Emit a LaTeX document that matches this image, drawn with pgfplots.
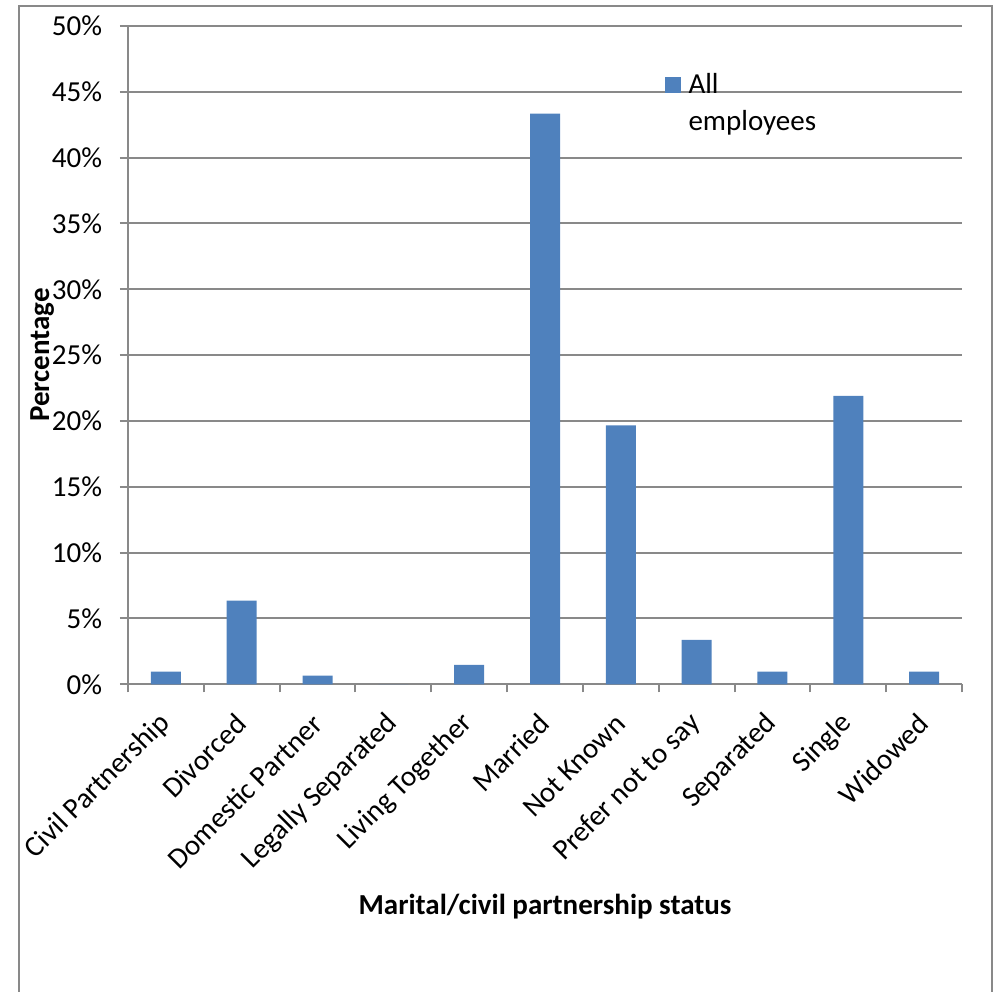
\documentclass[border=0pt]{standalone}
\usepackage{pgfplots}
\pgfplotsset{compat=1.18}
\usepackage{fontspec}
\setmainfont{Carlito}
\definecolor{barblue}{HTML}{4F81BD}
\definecolor{gridgray}{HTML}{898989}

\pgfplotstableread{
idx value
0  0.96
1  6.36
2  0.66
3  0.00
4  1.47
5  43.35
6  19.67
7  3.37
8  0.96
9  21.90
10 0.96
}\statusdata

\begin{document}
\fontsize{21.75}{26}\selectfont
\begin{tikzpicture}
\begin{axis}[
  at={(0,0)}, anchor=south west,
  scale only axis,
  width=625.5pt, height=493.7pt,
  ymin=0, ymax=50,
  xmin=-0.5, xmax=10.5,
  axis x line*=bottom, axis y line*=left,
  axis line style={gridgray, line width=1.5pt, -},
  ymajorgrids,
  major grid style={gridgray, line width=1.5pt},
  ytick={0,5,...,50},
  yticklabels={0\%,5\%,10\%,15\%,20\%,25\%,30\%,35\%,40\%,45\%,50\%},
  xtick={0,...,10},
  xticklabels={Civil Partnership,Divorced,Domestic Partner,Legally Separated,Living Together,Married,Not Known,Prefer not to say,Separated,Single,Widowed},
  minor xtick={-0.5,0.5,...,10.5},
  tick align=outside,
  major tick length=6pt,
  minor tick length=6pt,
  every major x tick/.style={draw=none},
  every tick/.style={gridgray, line width=1.5pt},
  every minor tick/.style={gridgray, line width=1.5pt},
  /pgf/number format/assume math mode=true,
  ticklabel style={font=\fontsize{21.75}{26}\selectfont},
  yticklabel style={anchor=east, xshift=-6pt},
  xticklabel style={rotate=45, anchor=east, xshift=-7pt, yshift=-14pt},
  ylabel={\textbf{Percentage}},
  ylabel style={at={(axis description cs:-0.103,0.5)}, anchor=center, font=\fontsize{21.75}{26}\selectfont},
  xlabel={\textbf{Marital/civil partnership status}},
  xlabel style={at={(axis description cs:0.5,-0.337)}, anchor=center, font=\fontsize{21.75}{26}\selectfont},
  legend cell align=left,
  legend style={draw=none, fill=none, at={(rel axis cs:0.643,0.933)}, anchor=north west,
    font=\fontsize{21.75}{26}\selectfont, row sep=6pt, column sep=4pt, inner sep=0pt},
  legend image code/.code={\fill[barblue] (0pt,-6pt) rectangle (12pt,6pt);},
]
\addplot[ybar, bar width=22.5pt, fill=barblue, draw=none]
  table[x=idx, y=value] {\statusdata};
\addlegendentry{All}
\addlegendimage{empty legend}
\addlegendentry{employees}
\end{axis}
\pgfresetboundingbox
\path[use as bounding box] (-96pt,-230.8pt) rectangle (654pt,513.2pt);
\draw[gridgray, line width=1.5pt] (-81.75pt,-260pt) -- (-81.75pt,508.5pt) -- (648pt,508.5pt) -- (648pt,-260pt);
\end{tikzpicture}
\end{document}
